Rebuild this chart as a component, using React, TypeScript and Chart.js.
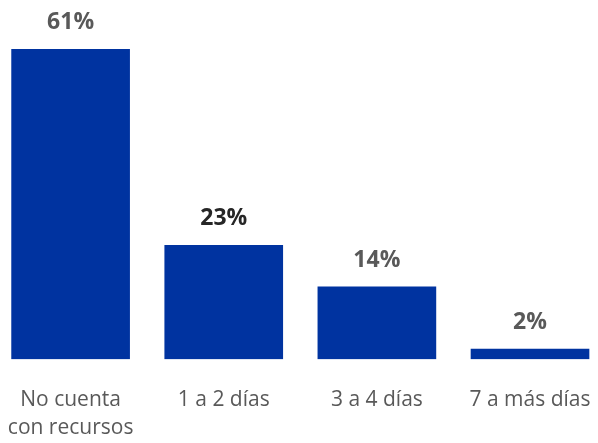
import React, { useEffect, useRef } from "react";
import { Chart, registerables } from "chart.js";

Chart.register(...registerables);

const categories: (string | string[])[] = [["No cuenta", "con recursos"], "1 a 2 días", "3 a 4 días", "7 a más días"];
const values: number[] = [61, 22.4, 14.2, 2];
const valueLabels: string[] = ["61%", "23%", "14%", "2%"];
const labelColors: string[] = ["#595959", "#262626", "#595959", "#595959"];

const FONT = "'Open Sans', 'Noto Sans', sans-serif";

const valueLabelPlugin = {
  id: "valueLabels",
  afterDatasetsDraw(chart: any) {
    const ctx = chart.ctx;
    const meta = chart.getDatasetMeta(0);
    ctx.save();
    ctx.font = `bold 23px ${FONT}`;
    ctx.textAlign = "center";
    ctx.textBaseline = "alphabetic";
    meta.data.forEach((bar: any, i: number) => {
      ctx.fillStyle = labelColors[i];
      ctx.fillText(valueLabels[i], bar.x, bar.y - 20);
    });
    ctx.restore();
  },
};

export default function App() {
  const ref = useRef<HTMLCanvasElement>(null);
  useEffect(() => {
    if (!ref.current) return;
    const chart = new Chart(ref.current, {
      type: "bar",
      data: {
        labels: categories,
        datasets: [
          {
            data: values,
            backgroundColor: "#0033A0",
            barThickness: 118,
          },
        ],
      },
      options: {
        animation: false,
        responsive: false,
        maintainAspectRatio: false,
        layout: { padding: { top: 49, left: 0, right: 0, bottom: 0 } },
        plugins: { legend: { display: false }, tooltip: { enabled: false } },
        scales: {
          x: {
            offset: true,
            grid: { display: false, drawTicks: false, tickLength: 0 },
            border: { display: false },
            ticks: {
              color: "#595959",
              padding: 27,
              maxRotation: 0,
              autoSkip: false,
              font: { family: FONT, size: 21, lineHeight: 1.33 },
            },
          },
          y: {
            display: false,
            min: 0,
            max: 61,
          },
        },
      },
      plugins: [valueLabelPlugin],
    });
    return () => chart.destroy();
  }, []);
  return (
    <div style={{ position: "fixed", left: 0, top: 0, width: 598, height: 443, overflow: "hidden", background: "#fff" }}>
      <canvas ref={ref} width={634} height={469} style={{ position: "absolute", left: -18, top: 0 }} />
    </div>
  );
}
